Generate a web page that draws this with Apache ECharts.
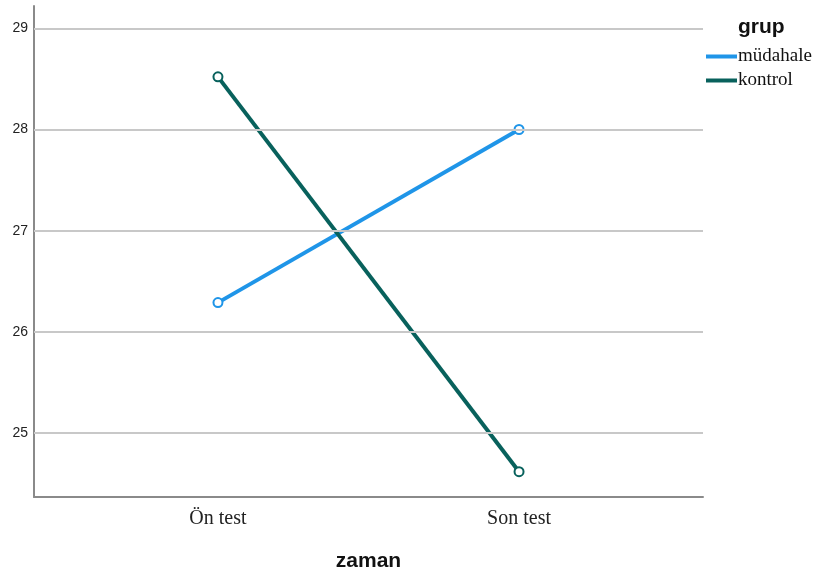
<!DOCTYPE html>
<html>
<head>
<meta charset="utf-8">
<script src="https://cdn.jsdelivr.net/npm/echarts@6/dist/echarts.min.js"></script>
<style>
  html, body { margin: 0; padding: 0; background: #fff; }
  #main { width: 819px; height: 577px; }
</style>
</head>
<body>
<div id="main"></div>
<script>
// zaman (time) points and group means
var categories = ['Ön test', 'Son test'];
var mudahale = [26.29, 28.00];
var kontrol = [28.52, 24.62];
var yTicks = [25, 26, 27, 28, 29];

var chart = echarts.init(document.getElementById('main'), null, { renderer: 'canvas' });

function toPoints(arr) {
  return arr.map(function (v, i) { return [i, v]; });
}

chart.setOption({
  animation: false,
  backgroundColor: '#fff',
  title: {
    text: 'grup',
    left: 733,
    top: 12,
    textStyle: { fontFamily: 'Liberation Sans', fontWeight: 'bold', fontSize: 21, color: '#111' }
  },
  legend: {
    orient: 'vertical',
    left: 701,
    top: 42,
    icon: 'rect',
    itemWidth: 31,
    itemHeight: 4,
    itemGap: 5,
    data: ['müdahale', 'kontrol'],
    textStyle: { fontFamily: 'Liberation Serif', fontSize: 19, color: '#111', padding: [0, 0, 0, -4] }
  },
  grid: {
    left: 34,
    right: 116,
    top: 6,
    bottom: 79,
    containLabel: false
  },
  xAxis: {
    type: 'value',
    min: -0.611,
    max: 1.611,
    name: 'zaman',
    nameLocation: 'middle',
    nameGap: 54,
    nameTextStyle: { fontFamily: 'Liberation Sans', fontWeight: 'bold', fontSize: 21, color: '#111' },
    axisLine: { onZero: false, lineStyle: { color: '#8a8a8a', width: 2 } },
    axisTick: { show: false },
    splitLine: { show: false },
    axisLabel: {
      customValues: [0, 1],
      formatter: function (v) { return categories[Math.round(v)]; },
      fontFamily: 'Liberation Serif',
      fontSize: 20,
      color: '#222',
      margin: 12
    }
  },
  yAxis: {
    type: 'value',
    min: 24.37,
    max: 29.22,
    axisLine: { show: true, onZero: false, lineStyle: { color: '#8a8a8a', width: 2 } },
    axisTick: { show: false },
    splitLine: { show: false },
    axisLabel: {
      customValues: yTicks,
      fontFamily: 'Liberation Sans',
      fontSize: 14,
      color: '#222',
      margin: 6
    }
  },
  series: [
    {
      // grid lines at the tick values
      type: 'line',
      data: [],
      silent: true,
      z: 1,
      markLine: {
        silent: true,
        symbol: 'none',
        label: { show: false },
        lineStyle: { color: '#c8c8c8', width: 2, type: 'solid' },
        data: yTicks.map(function (v) { return { yAxis: v }; })
      }
    },
    {
      name: 'müdahale',
      type: 'line',
      z: 3,
      data: toPoints(mudahale),
      symbol: 'emptyCircle',
      symbolSize: 9,
      lineStyle: { color: '#1f95e8', width: 4 },
      itemStyle: { color: '#1f95e8', borderWidth: 1.5 }
    },
    {
      name: 'kontrol',
      type: 'line',
      z: 3,
      data: toPoints(kontrol),
      symbol: 'emptyCircle',
      symbolSize: 9,
      lineStyle: { color: '#08615c', width: 4 },
      itemStyle: { color: '#08615c', borderWidth: 1.5 }
    }
  ]
});
</script>
</body>
</html>
